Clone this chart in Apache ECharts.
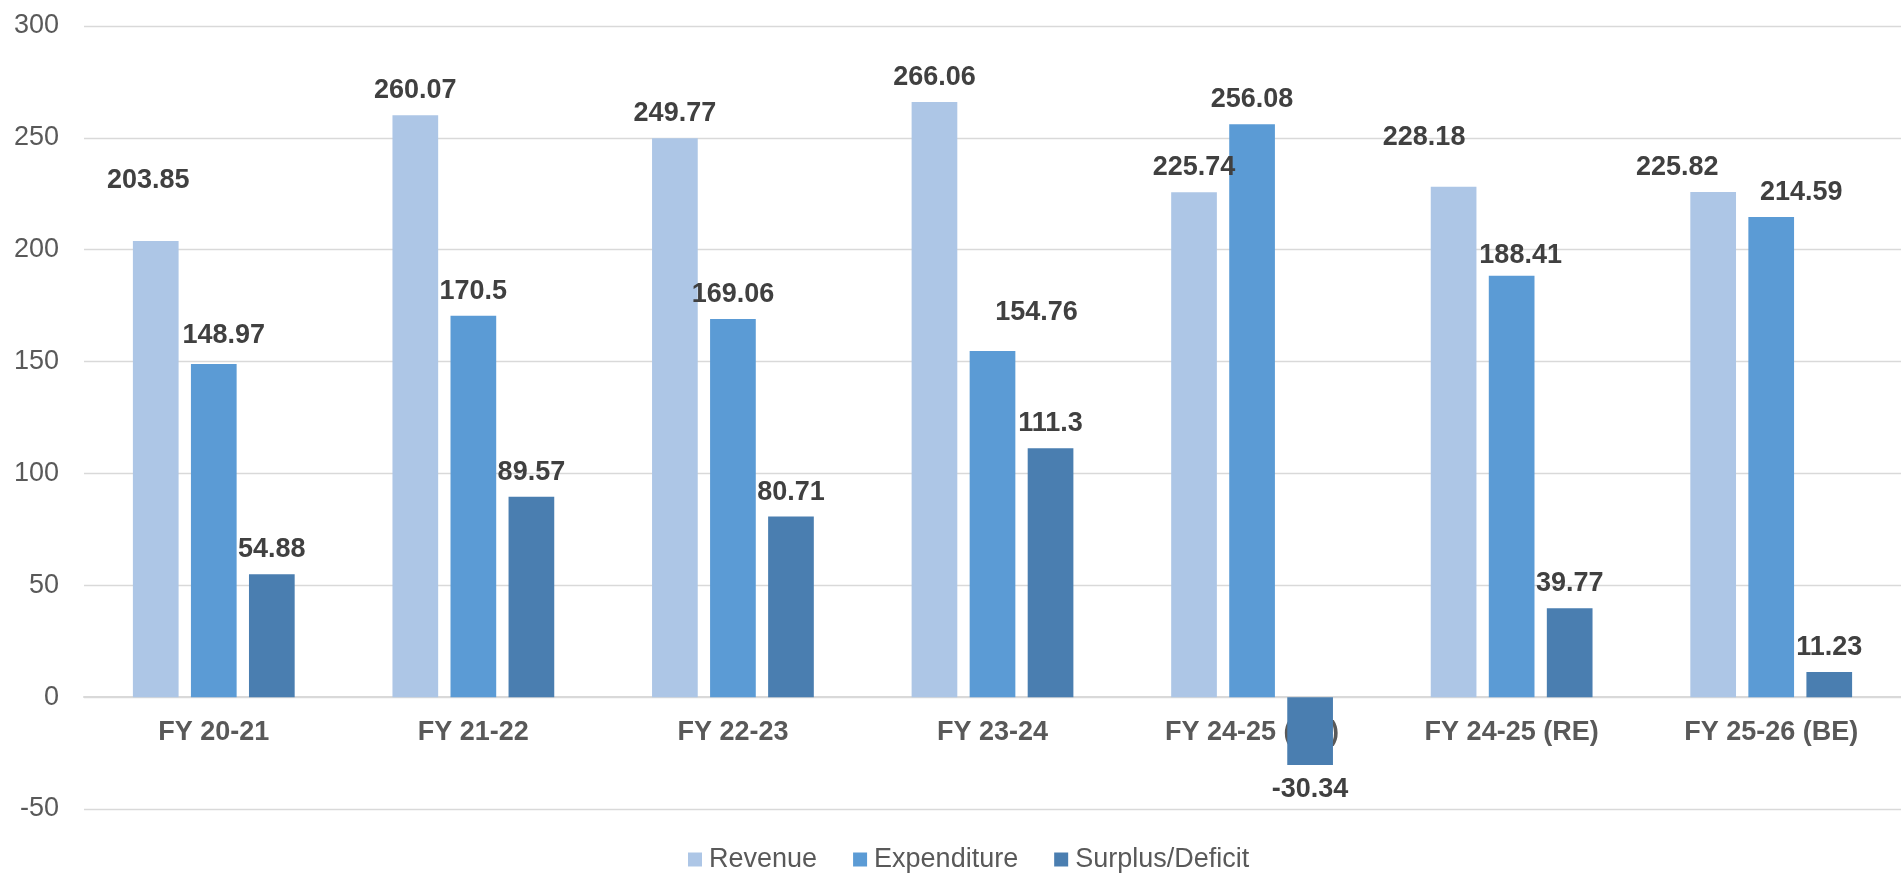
<!DOCTYPE html>
<html>
<head>
<meta charset="utf-8">
<script src="https://cdn.jsdelivr.net/npm/echarts@6/dist/echarts.min.js"></script>
<style>
  html, body { margin: 0; padding: 0; background: #ffffff; }
  #chart { width: 1901px; height: 874px; }
</style>
</head>
<body>
<div id="chart"></div>
<script>
// ---- Data ----
const categories = ['FY 20-21', 'FY 21-22', 'FY 22-23', 'FY 23-24', 'FY 24-25 (BE)', 'FY 24-25 (RE)', 'FY 25-26 (BE)'];
const revenue = [203.85, 260.07, 249.77, 266.06, 225.74, 228.18, 225.82];
const expenditure = [148.97, 170.5, 169.06, 154.76, 256.08, 188.41, 214.59];
const surplusDeficit = [54.88, 89.57, 80.71, 111.3, -30.34, 39.77, 11.23];
const seriesNames = ['Revenue', 'Expenditure', 'Surplus/Deficit'];
const yTicks = { min: -50, max: 300, interval: 50 };

// ---- Styling / layout ----
const FONT = "'Liberation Sans', Arial, sans-serif";
const colors = ['#ADC6E6', '#5B9BD5', '#4A7EB0'];
const GRID = { left: 84, right: -16, top: 26, bottom: 65 };
const CHART_H = 874;
const plotH = CHART_H - GRID.top - GRID.bottom;
// place the category axis at value 0 (shift up from the bottom of the plot)
const zeroOffset = -((0 - yTicks.min) / (yTicks.max - yTicks.min)) * plotH;

// Hand-moved data labels in the original (pixel nudges of the label text only)
const labelNudges = {
  0: { 0: [-7.5, -36], 5: [-29.5, -24.5], 6: [-36, 0] },
  1: { 0: [10, -3.5], 3: [44, -14], 5: [9, 4], 6: [30, 0] },
  2: {}
};

function buildData(values, seriesIdx) {
  return values.map((v, i) => {
    const n = labelNudges[seriesIdx][i];
    return n ? { value: v, label: { offset: n } } : v;
  });
}

const valueSets = [revenue, expenditure, surplusDeficit];

const chart = echarts.init(document.getElementById('chart'), null, { renderer: 'canvas' });

const option = {
  animation: false,
  backgroundColor: '#ffffff',
  textStyle: { fontFamily: FONT },
  grid: { left: GRID.left, right: GRID.right, top: GRID.top, bottom: GRID.bottom, containLabel: false },
  legend: {
    data: seriesNames,
    left: 683,
    top: 841,
    itemWidth: 14,
    itemHeight: 14,
    itemGap: 36,
    icon: 'rect',
    textStyle: { fontFamily: FONT, fontSize: 27, color: '#595959', padding: [0, 0, 0, 2] }
  },
  xAxis: {
    type: 'category',
    data: categories,
    position: 'bottom',
    offset: zeroOffset,
    axisLine: { show: true, onZero: false, lineStyle: { color: '#D9D9D9', width: 2 } },
    axisTick: { show: false },
    axisLabel: { fontFamily: FONT, fontSize: 27, fontWeight: 'bold', color: '#595959', margin: 22 },
    splitLine: { show: false },
    z: 0
  },
  yAxis: {
    type: 'value',
    min: yTicks.min,
    max: yTicks.max,
    interval: yTicks.interval,
    axisLine: { show: false },
    axisTick: { show: false },
    axisLabel: { fontFamily: FONT, fontSize: 27, color: '#595959', margin: 25 },
    splitLine: { show: true, lineStyle: { color: '#D9D9D9', width: 1.3 } }
  },
  series: seriesNames.map((name, si) => ({
    name: name,
    type: 'bar',
    data: buildData(valueSets[si], si),
    barWidth: 45.7,
    barGap: '27%',
    itemStyle: { color: colors[si] },
    label: {
      show: true,
      position: 'outside',
      distance: 11,
      fontFamily: FONT,
      fontSize: 27,
      fontWeight: 'bold',
      color: '#404040',
      formatter: p => String(p.value)
    },
    z: 3
  }))
};

chart.setOption(option);
</script>
</body>
</html>
